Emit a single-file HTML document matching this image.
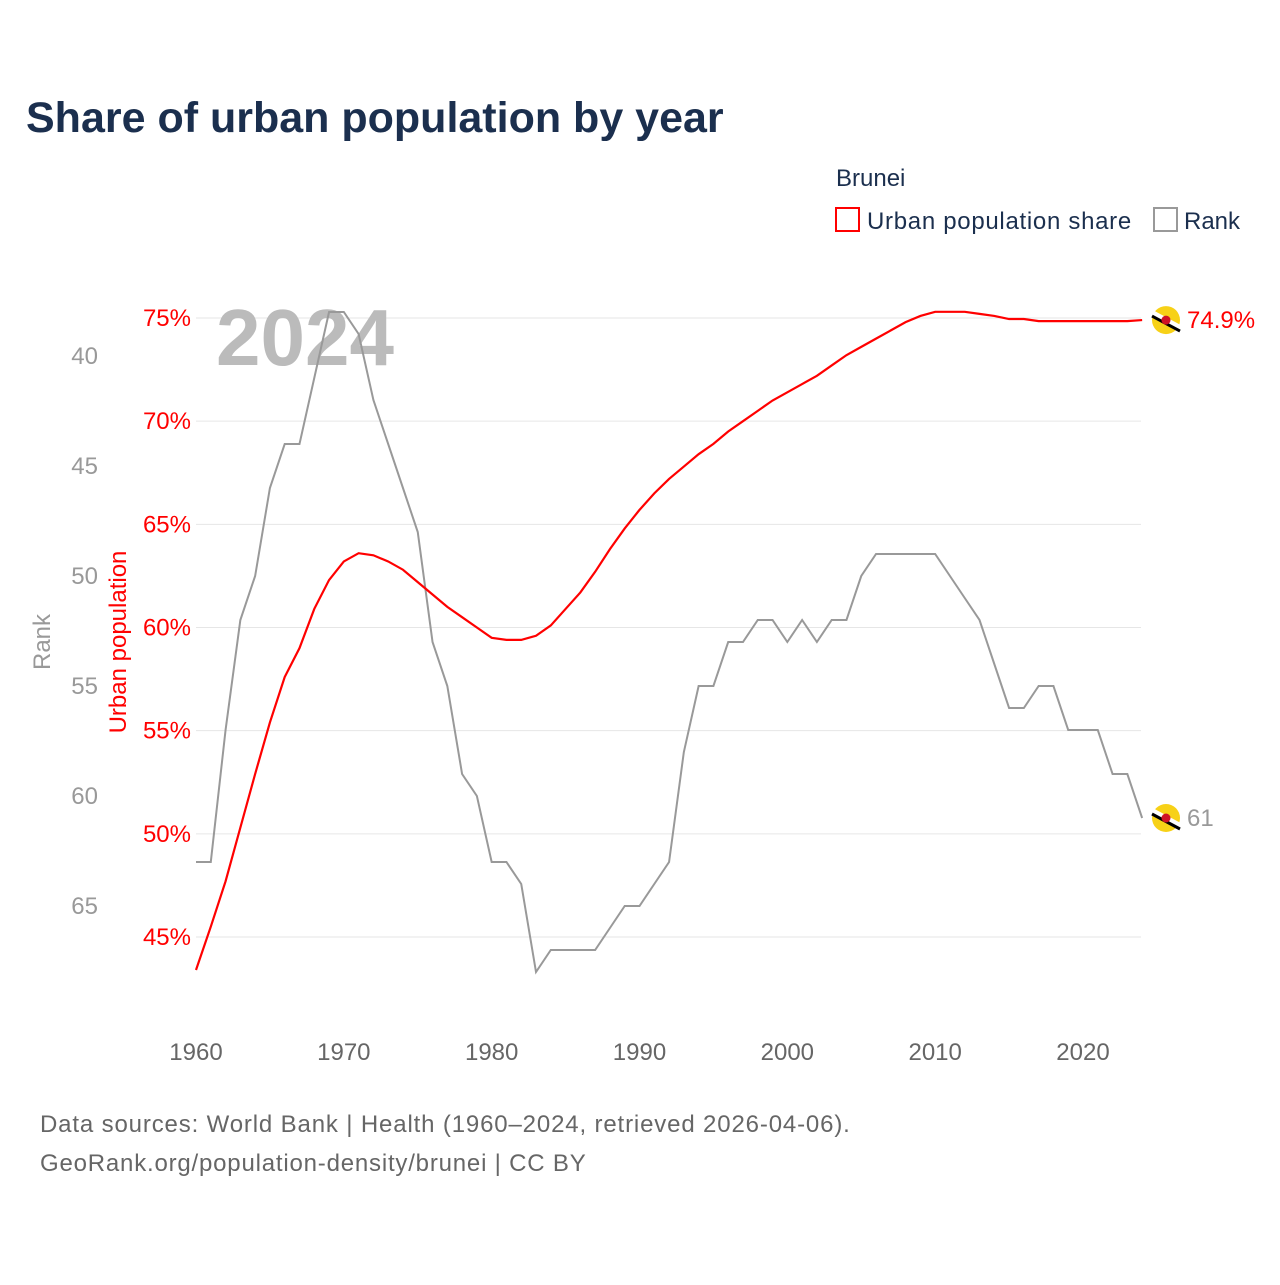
<!DOCTYPE html>
<html><head><meta charset="utf-8">
<style>
body{margin:0;background:#fff;font-family:"Liberation Sans",sans-serif;}
svg text{font-family:"Liberation Sans",sans-serif;}
</style></head>
<body>
<svg id="chart" width="1280" height="1280" xmlns="http://www.w3.org/2000/svg">
<rect width="1280" height="1280" fill="#fff"/>
<text x="26" y="132" font-size="43" font-weight="bold" fill="#1b2f4e">Share of urban population by year</text>
<text x="836" y="186" font-size="24" fill="#1b2f4e">Brunei</text>
<g>
<rect x="836" y="208" width="23" height="23" fill="none" stroke="red" stroke-width="2"/>
<text x="867" y="229" font-size="24" fill="#1b2f4e" letter-spacing="0.7">Urban population share</text></g>
<g>
<rect x="1154" y="208" width="23" height="23" fill="none" stroke="#999" stroke-width="2"/>
<text x="1184" y="229" font-size="24" fill="#1b2f4e">Rank</text></g>
<g id="grid"></g>
<text x="216" y="365" font-size="80" font-weight="bold" fill="#bbb">2024</text>
<g id="marks"></g>
<text transform="translate(126,642) rotate(-90)" text-anchor="middle" font-size="24" fill="red">Urban population</text>
<text transform="translate(50,642) rotate(-90)" text-anchor="middle" font-size="24" fill="#999">Rank</text>
<text x="40" y="1132" font-size="24" fill="#666" letter-spacing="0.85">Data sources: World Bank | Health (1960–2024, retrieved 2026-04-06).</text>
<text x="40" y="1171" font-size="24" fill="#666" letter-spacing="0.8">GeoRank.org/population-density/brunei | CC BY</text>
</svg>
<script>
const years=[];for(let y=1960;y<=2024;y++)years.push(y);
const urbanShare=[43.4,45.5,47.7,50.3,52.9,55.4,57.6,59.0,60.9,62.3,63.2,63.6,63.5,63.2,62.8,62.2,61.6,61.0,60.5,60.0,59.5,59.4,59.4,59.6,60.1,60.9,61.7,62.7,63.8,64.8,65.7,66.5,67.2,67.8,68.4,68.9,69.5,70.0,70.5,71.0,71.4,71.8,72.2,72.7,73.2,73.6,74.0,74.4,74.8,75.1,75.3,75.3,75.3,75.2,75.1,74.95,74.95,74.85,74.85,74.85,74.85,74.85,74.85,74.85,74.9];
const rank=[63,63,57,52,50,46,44,44,41,38,38,39,42,44,46,48,53,55,59,60,63,63,64,68,67,67,67,67,66,65,65,64,63,58,55,55,53,53,52,52,53,52,53,52,52,50,49,49,49,49,49,50,51,52,54,56,56,55,55,57,57,57,59,59,61];
const pctTicks=[45,50,55,60,65,70,75];
const rankTicks=[40,45,50,55,60,65];
const yearTicks=[1960,1970,1980,1990,2000,2010,2020];
const NS="http://www.w3.org/2000/svg";
const xS=y=>196+(y-1960)*(1083-196)/60;
const yP=p=>318+(75-p)*(937-318)/30;
const yR=r=>356+(r-40)*22;
function mk(t,a,parent){const e=document.createElementNS(NS,t);for(const k in a)e.setAttribute(k,a[k]);parent.appendChild(e);return e;}
const grid=document.getElementById('grid'),marks=document.getElementById('marks');
pctTicks.forEach(p=>{
 const l=mk('line',{x1:196,x2:1141,y1:yP(p),y2:yP(p),stroke:'#e6e6e6','stroke-width':1},grid);
 
 
 const t=mk('text',{x:191,y:yP(p)+8,'text-anchor':'end','font-size':24,fill:'red'},grid);t.textContent=p+'%';
 
 
});
rankTicks.forEach(r=>{
 const t=mk('text',{x:98,y:yR(r)+8,'text-anchor':'end','font-size':24,fill:'#999'},grid);t.textContent=r;
 
 
});
yearTicks.forEach(y=>{
 const t=mk('text',{x:xS(y),y:1060,'text-anchor':'middle','font-size':24,fill:'#666'},grid);t.textContent=y;
 
 
});
let d='';rank.forEach((r,i)=>{const x=xS(years[i]),y=yR(r);d+=(i?'L':'M')+x+','+y;});
const rl=mk('path',{d:d,fill:'none',stroke:'#999','stroke-width':2},marks);


d='';urbanShare.forEach((p,i)=>{d+=(i?'L':'M')+xS(years[i])+','+yP(p);});
const ul=mk('path',{d:d,fill:'none',stroke:'red','stroke-width':2.2},marks);


function flag(cx,cy,name){
 const g=mk('g',{},marks);
 
 
 mk('circle',{cx:cx,cy:cy,r:14,fill:'#f7d117'},g);
 mk('line',{x1:cx-14,y1:cy-7,x2:cx+14,y2:cy+8,stroke:'#fff','stroke-width':6},g);
 mk('line',{x1:cx-14,y1:cy-4,x2:cx+14,y2:cy+11,stroke:'#000','stroke-width':3},g);
 mk('circle',{cx:cx,cy:cy,r:4.5,fill:'#cf1126'},g);
}
const last=urbanShare.length-1;
flag(1166,yP(urbanShare[last]),'urban-end-flag');
flag(1166,yR(rank[last]),'rank-end-flag');
let t=mk('text',{x:1187,y:yP(urbanShare[last])+8,'font-size':24,fill:'red'},marks);t.textContent=urbanShare[last].toFixed(1)+'%';


t=mk('text',{x:1187,y:yR(rank[last])+8,'font-size':24,fill:'#999'},marks);t.textContent=rank[last];


</script>
</body></html>
